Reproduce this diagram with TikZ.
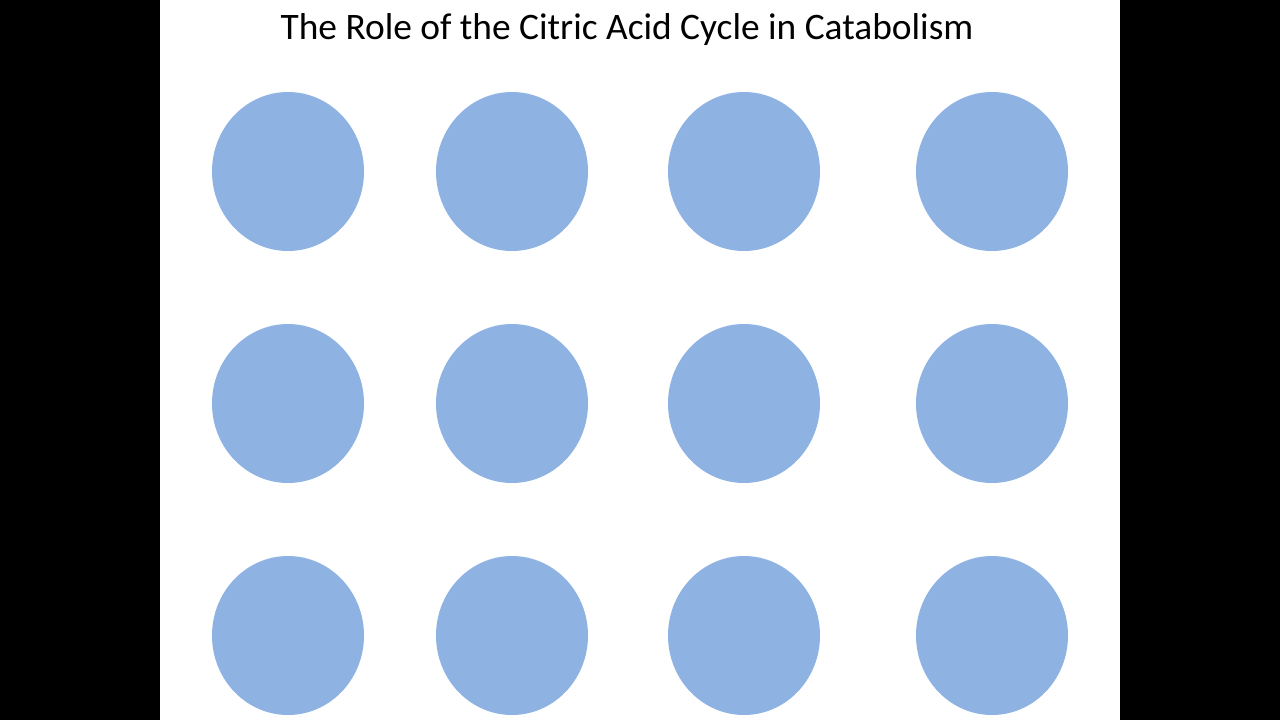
\documentclass[tikz,border=0pt]{standalone}
\usepackage{fontspec}
\setmainfont{Carlito}
\usetikzlibrary{shapes.geometric}
\definecolor{dotblue}{RGB}{142,179,227}
\begin{document}
\begin{tikzpicture}[x=1pt,y=-1pt,
		dot/.style={ellipse, fill=dotblue, inner sep=0pt, minimum width=152pt, minimum height=159pt}]
		% Set the page and the slide limits
		\def\pagew{1280}
		\def\pageh{720}
		\def\slidel{160}
		\def\slider{1120}
		
		\useasboundingbox (0,0) rectangle (\pagew,\pageh);
		\fill[black] (0,0) rectangle (\pagew,\pageh);
		\fill[white] (\slidel,0) rectangle (\slider,\pageh);
		
		% Title of the slide
		\node[anchor=base, font=\fontsize{37.4}{44}\selectfont] (title) at (627,39) {The Role of the Citric Acid Cycle in Catabolism};
		
		% Draw the grid of dots
		\foreach \r/\y in {1/171.5, 2/403.5, 3/635.5}
			\foreach \c/\x in {1/288, 2/512, 3/744, 4/992}
				\node[dot] (dot\r\c) at (\x,\y) {};
	\end{tikzpicture}
\end{document}
